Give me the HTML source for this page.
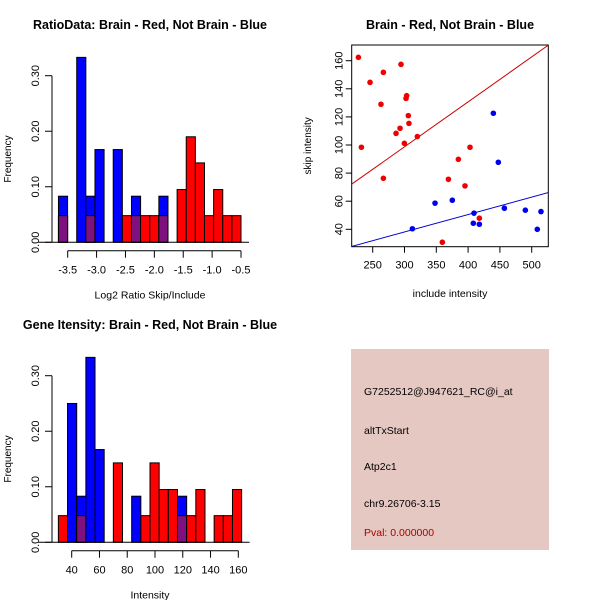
<!DOCTYPE html>
<html><head><meta charset="utf-8"><style>
body{margin:0;background:#fff;}
svg text{font-family:"Liberation Sans",sans-serif;}
</style></head><body>
<svg id="c" width="600" height="600" xmlns="http://www.w3.org/2000/svg"></svg>
<script>
// Ratio histogram data
const ratioBinStart = -3.66;
const ratioBinWidth = 0.158;
const ratioBlue = [0.083,0,0.333,0.083,0.167,0,0.167,0,0.083,0,0,0.083,0,0,0,0,0,0,0,0];
const ratioRed  = [0.048,0,0,0.048,0,0,0,0.048,0.048,0.048,0.048,0.048,0,0.095,0.190,0.143,0.048,0.095,0.048,0.048];
const ratioXTicks = [-3.5,-3.0,-2.5,-2.0,-1.5,-1.0,-0.5];
const freqTicks = [0,0.1,0.2,0.3];
const freqTickLabels = ["0.00","0.10","0.20","0.30"];
// Intensity histogram data
const intBinStart = 30.4;
const intBinWidth = 6.6;
const intBlue = [0,0.25,0.083,0.333,0.167,0,0,0,0.083,0,0,0,0,0.083,0,0,0,0,0,0];
const intRed  = [0.048,0,0.048,0,0,0,0.143,0,0,0.048,0.143,0.095,0.095,0.048,0.048,0.095,0,0.048,0.048,0.095];
const intXTicks = [40,60,80,100,120,140,160];
// Scatter data
const redX = [227.5,245.8,266.8,294.5,263,302.4,303.4,306,307,293,286.7,299.8,320.2,232.2,266.8,403,384.7,369,395.1,417.7,359.5];
const redY = [162.4,144.6,151.7,157.4,129,133.2,135.1,120.9,115.4,111.9,108.3,101.2,106,98.4,76.3,98.4,89.8,75.6,70.9,47.9,30.8];
const blueX = [439.7,447.5,348,375.2,409.3,408.2,417.7,457,490,514.6,508.8,312.4];
const blueY = [122.6,87.7,58.6,60.7,51.5,44.3,43.6,55,53.6,52.6,40,40.4];
const redLine = [2.7,0.32];   // intercept, slope
const blueLine = [0.9,0.124];
const scXTicks = [250,300,350,400,450,500];
const scYTicks = [40,60,80,100,120,140,160];

const svg = document.getElementById('c');
const NS = 'http://www.w3.org/2000/svg';
function mk(tag, attrs, parent){
  const e = document.createElementNS(NS, tag);
  for (const k in attrs) e.setAttribute(k, attrs[k]);
  (parent||svg).appendChild(e);
  return e;
}
function txt(x,y,s,size,opts,parent){
  const t = mk('text',Object.assign({x:x,y:y,'font-size':size,'text-anchor':'middle'},opts||{}),parent);
  t.textContent = s;
  return t;
}

function histogram(name, title, xlabel, binStart, binW, blue, red, xticks, xfmt, xpx0, xpx1, xv0, xv1, y0px, y30px, axisY, titleY){
  const g = mk('g',{});
  
  
  const sx = v => xpx0 + (v - xv0) * (xpx1 - xpx0) / (xv1 - xv0);
  const sy = v => y0px - v * (y0px - y30px) / 0.3;
  const tt = txt(150, titleY, title, 12.5, {'font-weight':'bold'}, g);
  
  
  for (let i = 0; i < blue.length; i++){
    const a = sx(binStart + i*binW), b = sx(binStart + (i+1)*binW);
    const bv = blue[i], rv = red[i];
    if (bv > 0){
      const r = mk('rect',{x:a,y:sy(bv),width:b-a,height:sy(0)-sy(bv),fill:'#0000ff',stroke:'#000','stroke-width':1},g);
      
      
    }
    if (rv > 0){
      const r = mk('rect',{x:a,y:sy(rv),width:b-a,height:sy(0)-sy(rv),fill:'#ff0000',stroke:'#000','stroke-width':1},g);
      
      
    }
    if (bv > 0 && rv > 0){
      const m = Math.min(bv, rv);
      const r = mk('rect',{x:a,y:sy(m),width:b-a,height:sy(0)-sy(m),fill:'#7f107f',stroke:'#000','stroke-width':1},g);
      
      
    }
  }
  mk('line',{x1:sx(binStart)-20,x2:sx(binStart+blue.length*binW)+8,y1:sy(0),y2:sy(0),stroke:'#000'},g);
  const yax = mk('g',{},g);
  
  
  mk('line',{x1:52,x2:52,y1:sy(0),y2:sy(0.3),stroke:'#000'},yax);
  freqTicks.forEach((v,i)=>{
    mk('line',{x1:45,x2:52,y1:sy(v),y2:sy(v),stroke:'#000'},yax);
    txt(0,0,freqTickLabels[i],11,{transform:`translate(39,${sy(v)}) rotate(-90)`},yax);
  });
  const yl = txt(0,0,'Frequency',10,{transform:`translate(11,${sy(0.15)}) rotate(-90)`},g);
  
  
  const xax = mk('g',{},g);
  
  
  mk('line',{x1:sx(xticks[0]),x2:sx(xticks[xticks.length-1]),y1:axisY,y2:axisY,stroke:'#000'},xax);
  xticks.forEach(v=>{
    mk('line',{x1:sx(v),x2:sx(v),y1:axisY,y2:axisY+7,stroke:'#000'},xax);
    txt(sx(v),axisY+23,xfmt(v),11,{},xax);
  });
  const xl = txt(150, axisY+48, xlabel, 10.5, {}, g);
  
  
}

histogram('ratio-histogram','RatioData: Brain - Red, Not Brain - Blue','Log2 Ratio Skip/Include',
  ratioBinStart, ratioBinWidth, ratioBlue, ratioRed, ratioXTicks, v=>v.toFixed(1),
  67.7, 241, -3.5, -0.5, 242.3, 75.7, 250.7, 29);
histogram('intensity-histogram','Gene Itensity: Brain - Red, Not Brain - Blue','Intensity',
  intBinStart, intBinWidth, intBlue, intRed, intXTicks, v=>String(v),
  71.7, 238.3, 40, 160, 542.3, 375.7, 550.7, 329);

(function(){
  const g = mk('g',{});
  
  
  const sx = v => 372.7 + (v-250)*(531.7-372.7)/250;
  const sy = v => 229.3 - (v-40)*(229.3-60.7)/120;
  const L=351.7,R=548.3,T=45,B=246.7;
  const tt = txt(450, 29, 'Brain - Red, Not Brain - Blue', 12.5, {'font-weight':'bold'}, g);
  
  
  mk('defs',{}).innerHTML = `<clipPath id="cp"><rect x="${L}" y="${T}" width="${R-L}" height="${B-T}"/></clipPath>`;
  const box = mk('rect',{x:L,y:T,width:R-L,height:B-T,fill:'none',stroke:'#000'},g);
  
  
  const lines = mk('g',{'clip-path':'url(#cp)'},g);
  [[redLine,'#cc0000','red-regression-line'],[blueLine,'#0000cc','blue-regression-line']].forEach(([ln,col,nm])=>{
    const x0 = 200, x1 = 560;
    const l = mk('line',{x1:sx(x0),y1:sy(ln[0]+ln[1]*x0),x2:sx(x1),y2:sy(ln[0]+ln[1]*x1),stroke:col,'stroke-width':1},lines);
    
    
  });
  redX.forEach((x,i)=>{
    const c = mk('circle',{cx:sx(x),cy:sy(redY[i]),r:2.8,fill:'#ee0000'},g);
    
    
  });
  blueX.forEach((x,i)=>{
    const c = mk('circle',{cx:sx(x),cy:sy(blueY[i]),r:2.8,fill:'#0000ee'},g);
    
    
  });
  const xax = mk('g',{},g);
  
  
  scXTicks.forEach(v=>{
    mk('line',{x1:sx(v),x2:sx(v),y1:B,y2:B+6,stroke:'#000'},xax);
    txt(sx(v),B+22,String(v),11,{},xax);
  });
  const yax = mk('g',{},g);
  
  
  scYTicks.forEach(v=>{
    mk('line',{x1:L-6,x2:L,y1:sy(v),y2:sy(v),stroke:'#000'},yax);
    txt(0,0,String(v),11,{transform:`translate(${L-9},${sy(v)}) rotate(-90)`},yax);
  });
  const xl = txt(450, 297, 'include intensity', 10.5, {}, g);
  
  
  const yl = txt(0,0,'skip intensity',10,{transform:`translate(311,${(T+B)/2}) rotate(-90)`},g);
  
  
})();

(function(){
  const g = mk('g',{});
  
  
  mk('rect',{x:351,y:349,width:198,height:201,fill:'#e6c8c2'},g);
  const lines = [['G7252512@J947621_RC@i_at',395,'#000','probe-id'],['altTxStart',434,'#000','event-type'],['Atp2c1',470,'#000','gene-name'],['chr9.26706-3.15',507,'#000','location'],['Pval: 0.000000',536,'#aa0000','p-value']];
  lines.forEach(([s,y,col,nm])=>{
    const t = txt(364,y,s,10.5,{'text-anchor':'start',fill:col},g);
    
    
  });
})();
</script>
</body></html>
